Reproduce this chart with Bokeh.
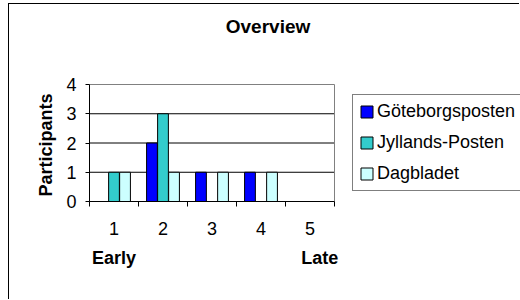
import math
from bokeh.plotting import figure
from bokeh.models import (ColumnDataSource, Range1d, FixedTicker, Legend,
                          LegendItem, LinearAxis, Label)
from bokeh.transform import dodge
from bokeh.embed import file_html
from bokeh.resources import INLINE

# ---- data ----
categories = [1, 2, 3, 4, 5]
goteborgsposten = [0, 2, 1, 1, 0]
jyllands_posten = [1, 3, 0, 0, 0]
dagbladet = [1, 1, 1, 1, 0]
series_names = ["Göteborgsposten", "Jyllands-Posten", "Dagbladet"]
y_ticks = [0, 1, 2, 3, 4]
title_text = "Overview"
y_title = "Participants"
note_positions = [1, 5.2]
note_labels = ["Early", "Late"]

colors = ["#0000FF", "#33CCCC", "#CCFFFF"]
FONT = "Liberation Sans"

# geometry (pixels)
W, H = 511, 296
LEFT, BOTTOM = 80, 99
PX_PER_CAT = 49.0
PX_PER_UNIT = 29.25
frame_w = W - LEFT
frame_h = H - BOTTOM
x0 = categories[0] - 0.5
x1 = categories[-1] + 0.5
ytop = y_ticks[-1]
y_title_anchor = 3.69   # upper end of the rotated y title, in axis units

source = ColumnDataSource(dict(x=categories, g=goteborgsposten,
                               j=jyllands_posten, d=dagbladet))

p = figure(width=W, height=H, output_backend="svg", toolbar_location=None,
           x_range=Range1d(x0, x0 + frame_w / PX_PER_CAT),
           y_range=Range1d(0, frame_h / PX_PER_UNIT),
           min_border_left=LEFT, min_border_right=0,
           min_border_top=0, min_border_bottom=BOTTOM,
           background_fill_color="white", border_fill_color="white",
           styles={"margin-left": "8px", "margin-top": "3px",
                   "border-left": "1px solid black",
                   "border-top": "1px solid black"})

p.outline_line_color = None
p.grid.visible = False

# gridlines and plot-area border
grid_y = [t for t in y_ticks if 0 < t < ytop]
p.segment(x0=[x0] * len(grid_y), x1=[x1] * len(grid_y), y0=grid_y, y1=grid_y,
          line_color="black", line_width=1)
p.quad(left=[x0], right=[x1], bottom=[0], top=[ytop], fill_color=None,
       line_color="#808080", line_width=1)

# x axis
xa = p.xaxis[0]
xa.bounds = (x0, x1)
xa.ticker = FixedTicker(ticks=categories,
                        minor_ticks=[c - 0.5 for c in categories] + [x1])
xa.major_tick_out = 0
xa.major_tick_in = 0
xa.minor_tick_out = 5
xa.minor_tick_in = 0
xa.minor_tick_line_color = "black"
xa.axis_line_color = "black"
xa.major_label_text_font = FONT
xa.major_label_text_font_size = "18px"
xa.major_label_text_color = "black"
xa.major_label_standoff = 15

# second (note) axis below: Early / Late
na = LinearAxis(ticker=FixedTicker(ticks=note_positions),
                major_label_overrides=dict(zip(note_positions, note_labels)),
                axis_line_color=None, major_tick_line_color=None,
                minor_tick_line_color=None, major_tick_out=0, major_tick_in=0,
                major_label_text_font=FONT, major_label_text_font_size="18px",
                major_label_text_font_style="bold",
                major_label_text_color="black", major_label_standoff=10)
p.add_layout(na, "below")

# y axis
ya = p.yaxis[0]
ya.bounds = (0, ytop)
ya.ticker = FixedTicker(ticks=y_ticks)
ya.minor_tick_line_color = None
ya.major_tick_out = 4
ya.major_tick_in = 0
ya.major_tick_line_color = "black"
ya.axis_line_color = "black"
ya.major_label_text_font = FONT
ya.major_label_text_font_size = "18px"
ya.major_label_text_color = "black"
ya.major_label_standoff = 9

# y title, placed beside the plot region (an outer axis carrying one label)
ta = LinearAxis(ticker=FixedTicker(ticks=[y_title_anchor]),
                major_label_overrides={y_title_anchor: y_title},
                major_label_orientation=math.pi / 2,
                axis_line_color=None, major_tick_line_color=None,
                minor_tick_line_color=None, major_tick_out=0, major_tick_in=0,
                minor_tick_out=0, minor_tick_in=0,
                major_label_text_font=FONT, major_label_text_font_size="18px",
                major_label_text_font_style="bold",
                major_label_text_color="black", major_label_standoff=17)
p.add_layout(ta, "left")

# bars
w = 0.22
off = 0.225
rg = p.vbar(x=dodge("x", -off, range=p.x_range), top="g", width=w, source=source,
            fill_color=colors[0], line_color="black", line_width=1)
rj = p.vbar(x=dodge("x", 0, range=p.x_range), top="j", width=w, source=source,
            fill_color=colors[1], line_color="black", line_width=1)
rd = p.vbar(x=dodge("x", off, range=p.x_range), top="d", width=w, source=source,
            fill_color=colors[2], line_color="black", line_width=1)

# legend
legend = Legend(items=[LegendItem(label=series_names[0], renderers=[rg]),
                       LegendItem(label=series_names[1], renderers=[rj]),
                       LegendItem(label=series_names[2], renderers=[rd])],
                location=(263, 10), margin=0, padding=6, spacing=10,
                glyph_width=15, glyph_height=15, label_height=20,
                label_width=160, label_standoff=3,
                label_text_font=FONT, label_text_font_size="18px",
                label_text_color="black",
                border_line_color="black", border_line_width=1,
                background_fill_color="white", background_fill_alpha=1)
p.add_layout(legend, "center")

# title (inside the frame area, above the plot region)
p.add_layout(Label(x=4.143, y=5.966, text=title_text, text_font=FONT,
                   text_font_size="19px", text_font_style="bold",
                   text_align="center", text_baseline="middle",
                   text_color="black"))

open("out.html", "w").write(file_html(p, INLINE))
